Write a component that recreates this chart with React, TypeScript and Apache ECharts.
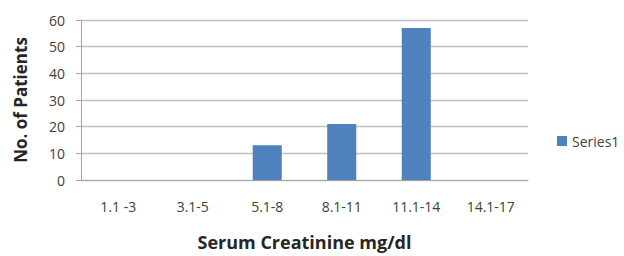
import React, { useEffect, useRef } from "react";
import * as echarts from "echarts";

const categories = ["1.1 -3", "3.1-5", "5.1-8", "8.1-11", "11.1-14", "14.1-17"];
const seriesValues = [0, 0, 13, 21, 57, 0];
const seriesName = "Series1";
const yTicks = { min: 0, max: 60, interval: 10 };

const FONT = "'Open Sans', 'Liberation Sans', sans-serif";

export default function App() {
  const ref = useRef<HTMLDivElement>(null);
  useEffect(() => {
    if (!ref.current) return;
    const chart = echarts.init(ref.current, undefined, { renderer: "svg" });
    chart.setOption({
      animation: false,
      backgroundColor: "#ffffff",
      textStyle: { fontFamily: FONT },
      grid: { left: 81, width: 447, top: 20, height: 166, containLabel: false },
      legend: {
        data: [seriesName],
        orient: "vertical",
        left: 557,
        top: 134,
        padding: 0,
        itemWidth: 10,
        itemHeight: 10,
        itemGap: 5,
        icon: "rect",
        textStyle: { fontSize: 14, color: "#404040", fontFamily: FONT },
      },
      xAxis: {
        type: "category",
        data: categories,
        name: "Serum Creatinine mg/dl",
        nameLocation: "middle",
        nameGap: 53,
        nameTextStyle: { fontSize: 18, fontWeight: "bold", color: "#262626", fontFamily: FONT },
        axisLine: { lineStyle: { color: "#a6a6a6", width: 1 } },
        axisTick: { show: false },
        axisLabel: { fontSize: 14, color: "#404040", margin: 19, fontFamily: FONT },
      },
      yAxis: {
        type: "value",
        min: yTicks.min,
        max: yTicks.max,
        interval: yTicks.interval,
        name: "No. of Patients",
        nameLocation: "middle",
        nameGap: 52,
        nameTextStyle: { fontSize: 17, fontWeight: "bold", color: "#262626", fontFamily: FONT },
        axisLine: { show: true, lineStyle: { color: "#a6a6a6", width: 1 } },
        axisTick: { show: true, length: 5, lineStyle: { color: "#a6a6a6" } },
        axisLabel: { fontSize: 14, color: "#404040", margin: 16, fontFamily: FONT },
        splitLine: { lineStyle: { color: "#bfbfbf", width: 1.3 } },
      },
      series: [
        {
          name: seriesName,
          type: "bar",
          data: seriesValues,
          barWidth: "39%",
          itemStyle: { color: "#4f81bd" },
        },
      ],
    });
    return () => chart.dispose();
  }, []);
  return (
    <div
      ref={ref}
      style={{ position: "absolute", left: 0, top: 0, width: 624, height: 256 }}
    />
  );
}
